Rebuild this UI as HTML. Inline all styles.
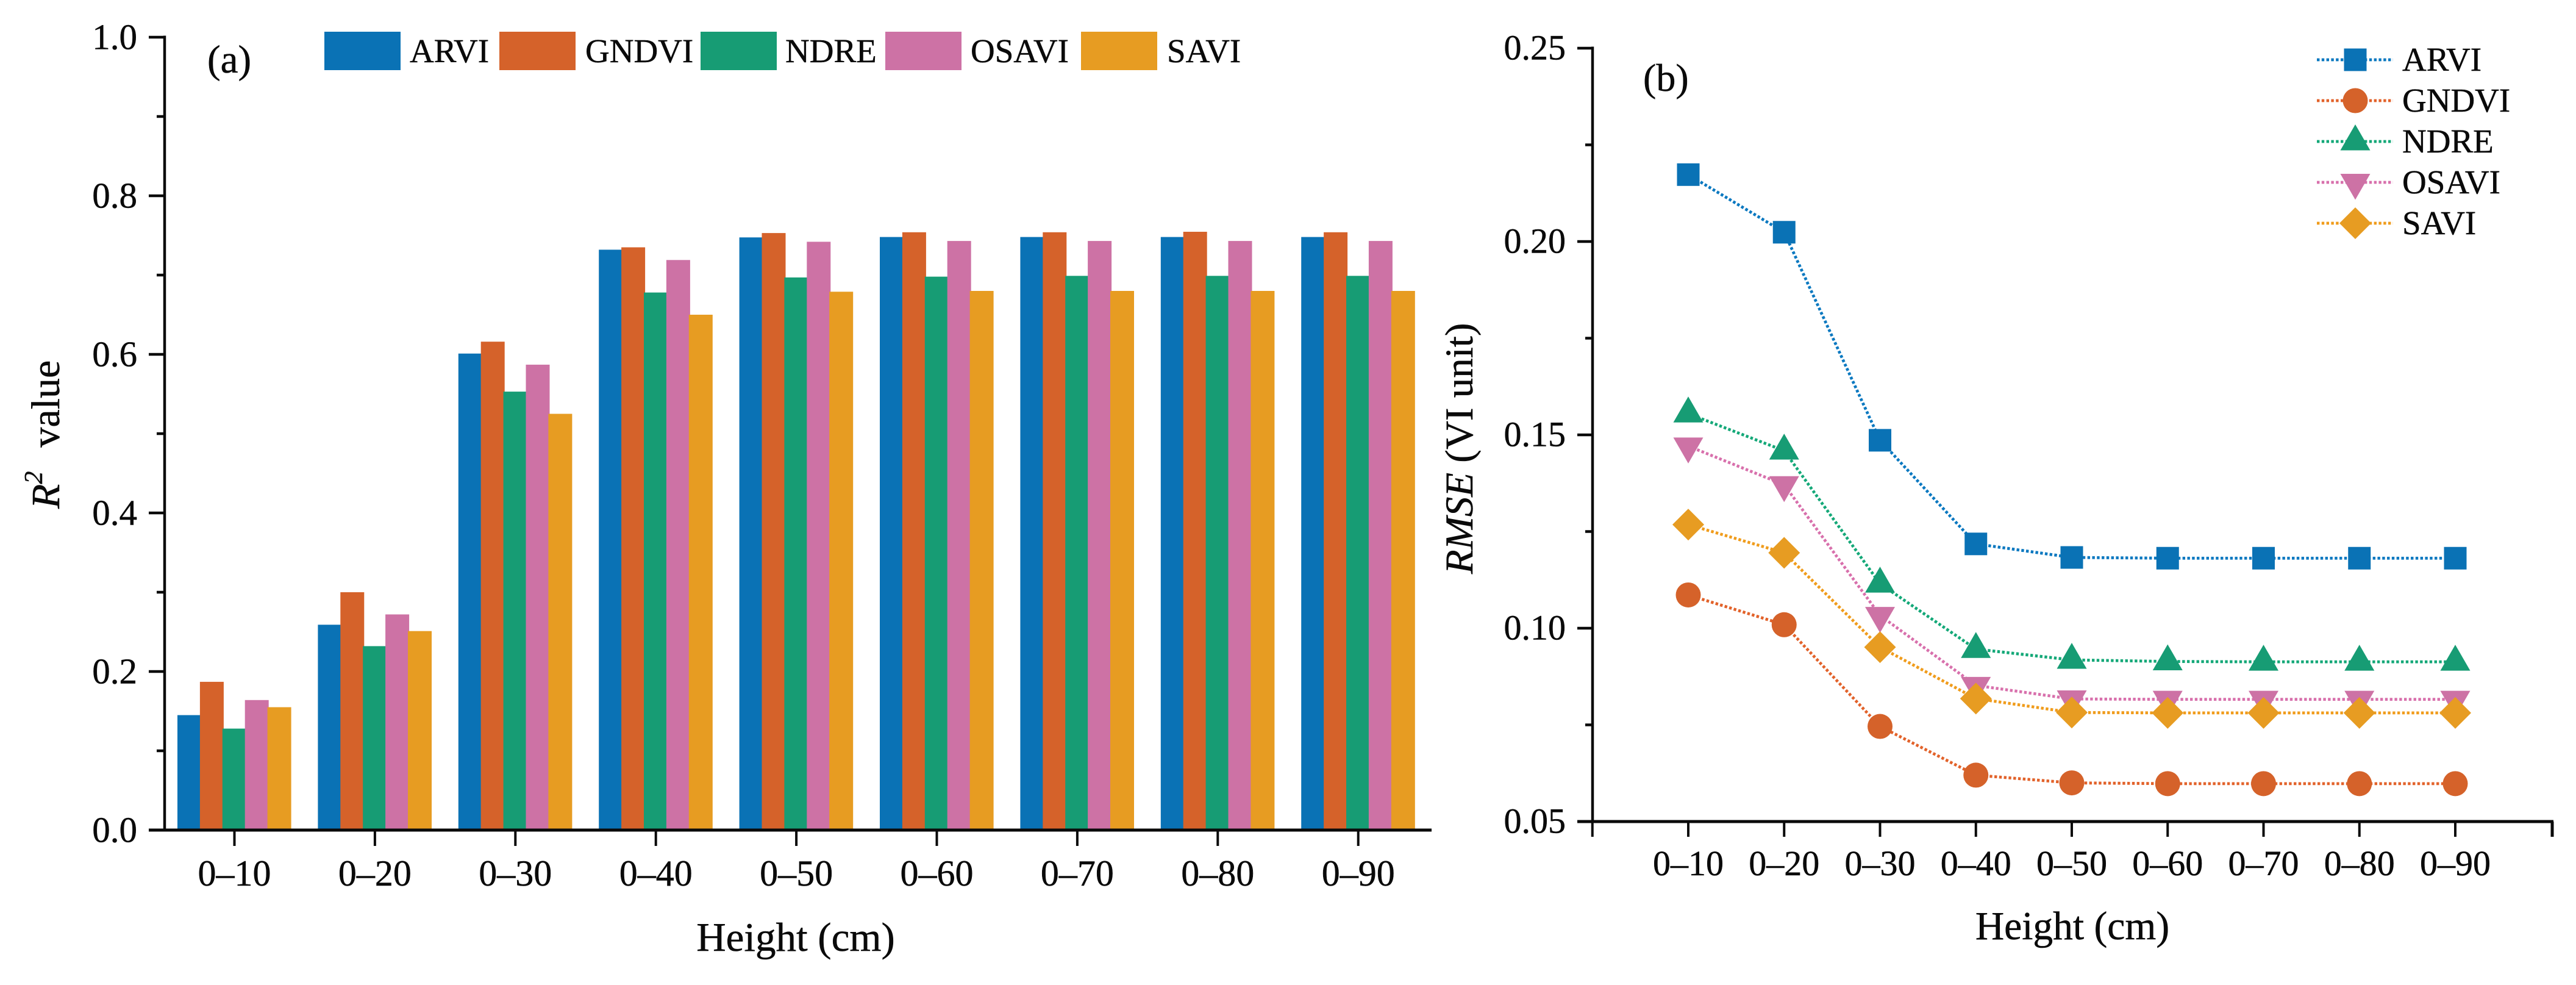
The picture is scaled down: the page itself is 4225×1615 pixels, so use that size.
<!DOCTYPE html>
<html lang="en">
<head>
<meta charset="utf-8">
<title>R2 value and RMSE by canopy height</title>
<style>
html,body{margin:0;padding:0;background:#fff;}
svg{display:block;font-family:"Liberation Serif","DejaVu Serif",serif;fill:#0a0a0a;}
svg text{stroke:#0a0a0a;stroke-width:0.5px;}
</style>
</head>
<body>
<svg id="chart" xmlns="http://www.w3.org/2000/svg" width="4225" height="1615" viewBox="0 0 4225 1615">
<rect x="0" y="0" width="4225" height="1615" fill="#ffffff"/>
<text x="340" y="119" font-size="65">(a)</text>
<text x="2695" y="149" font-size="64">(b)</text>
<text x="1305" y="1559" font-size="67" text-anchor="middle">Height (cm)</text>
<text x="3399" y="1540" font-size="65.5" text-anchor="middle">Height (cm)</text>
<text transform="translate(97,834) rotate(-90)" font-size="66"><tspan font-style="italic">R</tspan><tspan font-size="42" font-style="italic" dy="-28">2</tspan><tspan dy="28" dx="39">value</tspan></text>
<text transform="translate(2415,941) rotate(-90)" font-size="65"><tspan font-style="italic">RMSE</tspan> (VI unit)</text>
<g id="bars"></g>
<g id="axesA"></g>
<g id="legendA"></g>
<g id="linesB"></g>
<g id="axesB"></g>
<g id="legendB"></g>
</svg>
<script>
const categories = ['0–10','0–20','0–30','0–40','0–50','0–60','0–70','0–80','0–90'];
const seriesNames = ['ARVI','GNDVI','NDRE','OSAVI','SAVI'];
const r2Arvi  = [0.145,0.259,0.601,0.732,0.7475,0.748,0.748,0.748,0.748];
const r2Gndvi = [0.187,0.300,0.616,0.735,0.753,0.754,0.754,0.7546,0.754];
const r2Ndre  = [0.128,0.232,0.553,0.678,0.697,0.698,0.699,0.699,0.699];
const r2Osavi = [0.164,0.272,0.587,0.719,0.742,0.743,0.743,0.743,0.743];
const r2Savi  = [0.155,0.251,0.525,0.650,0.679,0.680,0.680,0.680,0.680];
const rmseArvi  = [0.2173,0.2024,0.1486,0.1218,0.1183,0.1181,0.1181,0.1181,0.1181];
const rmseGndvi = [0.1086,0.1009,0.0746,0.0620,0.0600,0.0598,0.0598,0.0598,0.0598];
const rmseNdre  = [0.1555,0.1459,0.1115,0.0946,0.0918,0.0914,0.0913,0.0913,0.0913];
const rmseOsavi = [0.1471,0.1371,0.1033,0.0852,0.0817,0.0816,0.0816,0.0816,0.0816];
const rmseSavi  = [0.1268,0.1195,0.0951,0.0818,0.0782,0.0781,0.0781,0.0781,0.0781];
const r2Ticks = ['0.0','0.2','0.4','0.6','0.8','1.0'];
const r2MinorTicks = ['0.1','0.3','0.5','0.7','0.9'];
const rmseTicks = ['0.05','0.10','0.15','0.20','0.25'];
const rmseMinorTicks = ['0.075','0.125','0.175','0.225'];

const r2Series = [r2Arvi,r2Gndvi,r2Ndre,r2Osavi,r2Savi];
const rmseSeries = [rmseArvi,rmseGndvi,rmseNdre,rmseOsavi,rmseSavi];
const colors = ['#0a72b5','#d5622a','#179c74','#cd72a5','#e79c22'];
const lineColors = ['#0a78c0','#e2622a','#14a878','#d870ac','#f09c1c'];
const shapes = ['square','circle','up','down','diamond'];
const INK = '#0a0a0a';
const NS = 'http://www.w3.org/2000/svg';

function xA(i){ return 384.5 + i * 230.4; }
function yA(v){ return 1361 - v * 1300; }
function xB(i){ return 2769 + i * 157.25; }
function yB(v){ return 1347 - (v - 0.05) * 6340; }

function svgEl(parent, tag, attrs, text){
  const el = document.createElementNS(NS, tag);
  for (const k in attrs) el.setAttribute(k, attrs[k]);
  if (text !== undefined) el.textContent = text;
  parent.appendChild(el);
  return el;
}
function slug(s){ return s.toLowerCase().replace(/[^a-z0-9]+/g,'-'); }

function drawMarker(parent, shape, cx, cy, fill){
  let el;
  if (shape === 'square') {
    el = svgEl(parent,'rect',{x:cx-18.5,y:cy-18.5,width:37,height:37,fill:fill});
  } else if (shape === 'circle') {
    el = svgEl(parent,'circle',{cx:cx,cy:cy,r:20.5,fill:fill});
  } else if (shape === 'up') {
    el = svgEl(parent,'polygon',{points:(cx)+','+(cy-28)+' '+(cx+24.5)+','+(cy+14.5)+' '+(cx-24.5)+','+(cy+14.5),fill:fill});
  } else if (shape === 'down') {
    el = svgEl(parent,'polygon',{points:(cx-24.5)+','+(cy-14)+' '+(cx+24.5)+','+(cy-14)+' '+(cx)+','+(cy+28.5),fill:fill});
  } else {
    el = svgEl(parent,'polygon',{points:(cx)+','+(cy-26)+' '+(cx+26)+','+(cy)+' '+(cx)+','+(cy+26)+' '+(cx-26)+','+(cy),fill:fill});
  }
  return el;
}

/* ---------- Panel (a): grouped bars ---------- */
const barsG = document.getElementById('bars');
const BAR_PITCH = 36.9, BAR_W = 39, GROUP_OFFSET = -93.5;
r2Series.forEach(function(vals, s){
  vals.forEach(function(v, i){
    const top = yA(v);
    const bar = svgEl(barsG,'rect',{x:xA(i)+GROUP_OFFSET+s*BAR_PITCH,y:top,width:BAR_W,height:yA(0)-top,fill:colors[s]});
    
    
  });
});

const axA = document.getElementById('axesA');
const yAxisA = svgEl(axA,'line',{x1:270,y1:yA(1)-2.5,x2:270,y2:yA(0)+2,stroke:INK,'stroke-width':4.5});


const xAxisA = svgEl(axA,'line',{x1:244,y1:yA(0),x2:2348,y2:yA(0),stroke:INK,'stroke-width':5});


r2Ticks.forEach(function(t){
  const y = yA(parseFloat(t));
  const tick = svgEl(axA,'line',{x1:244,y1:y,x2:270,y2:y,stroke:INK,'stroke-width':4.5});
  
  
  const lab = svgEl(axA,'text',{x:225,y:y+19.5,'font-size':59,'text-anchor':'end'},t);
  
  
});
r2MinorTicks.forEach(function(t){
  const y = yA(parseFloat(t));
  const tick = svgEl(axA,'line',{x1:257,y1:y,x2:270,y2:y,stroke:INK,'stroke-width':4.5});
  
  
});
categories.forEach(function(c,i){
  const x = xA(i);
  const tick = svgEl(axA,'line',{x1:x,y1:yA(0),x2:x,y2:yA(0)+26,stroke:INK,'stroke-width':4});
  
  
  const lab = svgEl(axA,'text',{x:x,y:1452,'font-size':60,'text-anchor':'middle'},c);
  
  
});

const legA = document.getElementById('legendA');
const legendSwatchX = [532,819,1149,1452,1773];
const legendTextX = [672,960,1288,1592,1914];
seriesNames.forEach(function(n,s){
  const sw = svgEl(legA,'rect',{x:legendSwatchX[s],y:52,width:125,height:63,fill:colors[s]});
  
  
  const tx = svgEl(legA,'text',{x:legendTextX[s],y:102,'font-size':55},n);
  
  
});

/* ---------- Panel (b): dotted lines with markers ---------- */
const linesG = document.getElementById('linesB');
rmseSeries.forEach(function(vals, s){
  const pts = vals.map(function(v,i){ return xB(i) + ',' + yB(v); }).join(' ');
  const line = svgEl(linesG,'polyline',{points:pts,fill:'none',stroke:lineColors[s],'stroke-width':4.8,'stroke-dasharray':'4.4 3.4'});
  
  
});
rmseSeries.forEach(function(vals, s){
  vals.forEach(function(v,i){
    const m = drawMarker(linesG, shapes[s], xB(i), yB(v), colors[s]);
    
    
  });
});

const axB = document.getElementById('axesB');
const yAxisB = svgEl(axB,'line',{x1:2612,y1:yB(0.25)-2.5,x2:2612,y2:yB(0.05)+2,stroke:INK,'stroke-width':4.5});


const xAxisB = svgEl(axB,'line',{x1:2587,y1:yB(0.05),x2:4188,y2:yB(0.05),stroke:INK,'stroke-width':5});


rmseTicks.forEach(function(t){
  const y = yB(parseFloat(t));
  const tick = svgEl(axB,'line',{x1:2587,y1:y,x2:2612,y2:y,stroke:INK,'stroke-width':4.5});
  
  
  const lab = svgEl(axB,'text',{x:2568,y:y+18.5,'font-size':58,'text-anchor':'end'},t);
  
  
});
rmseMinorTicks.forEach(function(t){
  const y = yB(parseFloat(t));
  const tick = svgEl(axB,'line',{x1:2600,y1:y,x2:2612,y2:y,stroke:INK,'stroke-width':4.5});
  
  
});
categories.forEach(function(c,i){
  const x = xB(i);
  const tick = svgEl(axB,'line',{x1:x,y1:yB(0.05),x2:x,y2:yB(0.05)+25,stroke:INK,'stroke-width':4});
  
  
  const lab = svgEl(axB,'text',{x:x,y:1435,'font-size':58,'text-anchor':'middle'},c);
  
  
});
const startTick = svgEl(axB,'line',{x1:xB(-1),y1:yB(0.05),x2:xB(-1),y2:yB(0.05)+25,stroke:INK,'stroke-width':4});


const endTick = svgEl(axB,'line',{x1:4186,y1:yB(0.05),x2:4186,y2:yB(0.05)+25,stroke:INK,'stroke-width':5});



const legB = document.getElementById('legendB');
seriesNames.forEach(function(n,s){
  const y = 98 + s * 67;
  const ln = svgEl(legB,'line',{x1:3800,y1:y,x2:3925,y2:y,stroke:lineColors[s],'stroke-width':4.8,'stroke-dasharray':'4.4 3.4'});
  
  
  const mk = drawMarker(legB, shapes[s], 3863, y, colors[s]);
  
  
  const tx = svgEl(legB,'text',{x:3940,y:y+18,'font-size':55},n);
  
  
});
</script>
</body>
</html>
